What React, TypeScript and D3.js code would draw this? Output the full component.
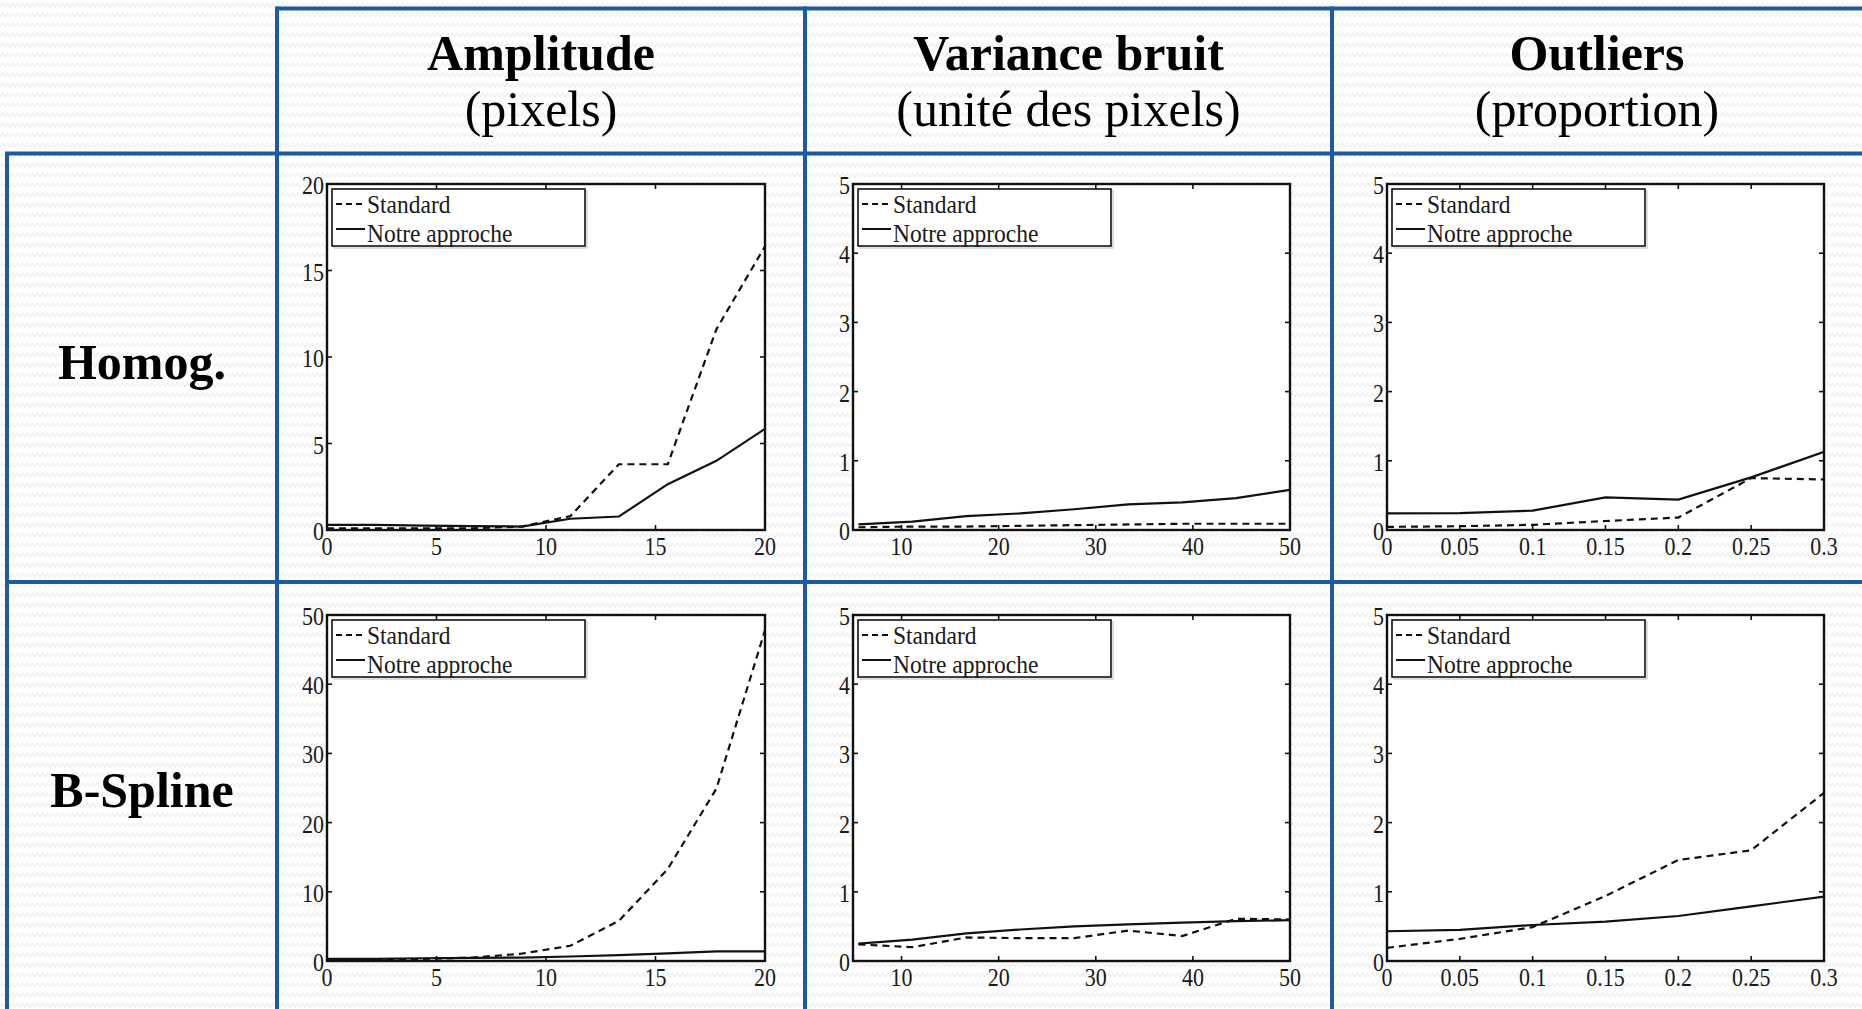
import * as d3 from 'd3';
import React from 'react';

const W = 1862;
const H = 1009;

// sampled abscissae, one per column
const amplitudeX = [0, 2.22, 4.44, 6.67, 8.89, 11.11, 13.33, 15.56, 17.78, 20];
const varianceX = [5.56, 11.11, 16.67, 22.22, 27.78, 33.33, 38.89, 44.44, 50];
const outlierX = [0, 0.05, 0.1, 0.15, 0.2, 0.25, 0.3];

// Homog. row
const homogAmpStandard = [0.1, 0.1, 0.1, 0.1, 0.2, 0.8, 3.8, 3.8, 11.6, 16.4];
const homogAmpOurs = [0.3, 0.3, 0.25, 0.22, 0.2, 0.65, 0.78, 2.65, 4.0, 5.85];
const homogVarStandard = [0.04, 0.05, 0.05, 0.06, 0.07, 0.08, 0.09, 0.09, 0.09];
const homogVarOurs = [0.08, 0.12, 0.2, 0.24, 0.3, 0.37, 0.4, 0.46, 0.58];
const homogOutStandard = [0.045, 0.055, 0.075, 0.13, 0.18, 0.75, 0.73];
const homogOutOurs = [0.24, 0.245, 0.28, 0.47, 0.44, 0.76, 1.13];

// B-Spline row
const bsplineAmpStandard = [0.1, 0.15, 0.3, 0.5, 1.06, 2.2, 5.8, 13.3, 24.9, 47.8];
const bsplineAmpOurs = [0.3, 0.3, 0.4, 0.45, 0.5, 0.65, 0.85, 1.1, 1.4, 1.4];
const bsplineVarStandard = [0.24, 0.2, 0.34, 0.33, 0.33, 0.44, 0.36, 0.61, 0.6];
const bsplineVarOurs = [0.25, 0.31, 0.4, 0.455, 0.5, 0.53, 0.555, 0.575, 0.59];
const bsplineOutStandard = [0.19, 0.32, 0.49, 0.94, 1.46, 1.6, 2.43];
const bsplineOutOurs = [0.43, 0.45, 0.52, 0.57, 0.65, 0.79, 0.93];

const columnTitles = ['Amplitude', 'Variance bruit', 'Outliers'];
const columnUnits = ['(pixels)', '(unité des pixels)', '(proportion)'];
const rowTitles = ['Homog.', 'B-Spline'];
const legendLabels = ['Standard', 'Notre approche'];

const xDomains = [[0, 20], [5, 50], [0, 0.3]];
const xTicks = [
  [0, 5, 10, 15, 20],
  [10, 20, 30, 40, 50],
  [0, 0.05, 0.1, 0.15, 0.2, 0.25, 0.3],
];
const yTicksHomog = [[0, 5, 10, 15, 20], [0, 1, 2, 3, 4, 5], [0, 1, 2, 3, 4, 5]];
const yTicksBspline = [[0, 10, 20, 30, 40, 50], [0, 1, 2, 3, 4, 5], [0, 1, 2, 3, 4, 5]];

const BLUE = '#1d5a9f';
const SERIF = "'Liberation Serif', 'Times New Roman', serif";

// grid geometry
const gridX = [7, 277, 805, 1332];
const gridY = [8.5, 153.5, 582];
const axesCols = [
  [327, 765],
  [853, 1290],
  [1387, 1824],
];
const axesRows = [
  [184, 530],
  [615, 961],
];

const columnX = [amplitudeX, varianceX, outlierX];
const series = [
  [
    [homogAmpStandard, homogAmpOurs],
    [homogVarStandard, homogVarOurs],
    [homogOutStandard, homogOutOurs],
  ],
  [
    [bsplineAmpStandard, bsplineAmpOurs],
    [bsplineVarStandard, bsplineVarOurs],
    [bsplineOutStandard, bsplineOutOurs],
  ],
];
const yTicksByRow = [yTicksHomog, yTicksBspline];

interface PanelProps {
  id: string;
  x0: number;
  x1: number;
  y0: number;
  y1: number;
  xDomain: number[];
  xTickValues: number[];
  yTickValues: number[];
  xs: number[];
  standard: number[];
  ours: number[];
}

const Panel = ({
  id, x0, x1, y0, y1, xDomain, xTickValues, yTickValues, xs, standard, ours,
}: PanelProps) => {
  const x = d3.scaleLinear().domain(xDomain).range([x0, x1]);
  const y = d3
    .scaleLinear()
    .domain([0, yTickValues[yTickValues.length - 1]])
    .range([y1, y0]);

  const line = d3
    .line<number>()
    .x((_, i) => x(xs[i]))
    .y((d) => y(d));

  const tick = 5;

  return (
    <g>
      <defs>
        <clipPath id={id}>
          <rect x={x0} y={y0} width={x1 - x0} height={y1 - y0} />
        </clipPath>
      </defs>
      <rect x={x0} y={y0} width={x1 - x0} height={y1 - y0} fill="#fff" />

      <g clipPath={`url(#${id})`} fill="none" stroke="#111" strokeWidth={2.2}>
        <path d={line(standard) || ''} strokeDasharray="7,5" />
        <path d={line(ours) || ''} />
      </g>

      {/* inward ticks on all four sides */}
      <g stroke="#111" strokeWidth={1.6}>
        {xTickValues.map((t) => (
          <g key={`xt${t}`}>
            <line x1={x(t)} x2={x(t)} y1={y1} y2={y1 - tick} />
            <line x1={x(t)} x2={x(t)} y1={y0} y2={y0 + tick} />
          </g>
        ))}
        {yTickValues.map((t) => (
          <g key={`yt${t}`}>
            <line x1={x0} x2={x0 + tick} y1={y(t)} y2={y(t)} />
            <line x1={x1} x2={x1 - tick} y1={y(t)} y2={y(t)} />
          </g>
        ))}
      </g>
      <rect
        x={x0}
        y={y0}
        width={x1 - x0}
        height={y1 - y0}
        fill="none"
        stroke="#111"
        strokeWidth={2.4}
      />

      <g fontFamily={SERIF} fontSize={22} fill="#1a1a1a">
        {xTickValues.map((t) => (
          <text
            key={`xl${t}`}
            transform={`translate(${x(t)},${y1 + 25}) scale(1,1.14)`}
            textAnchor="middle"
          >
            {String(t)}
          </text>
        ))}
        {yTickValues.map((t) => (
          <text
            key={`yl${t}`}
            transform={`translate(${x0 - 3},${y(t) + 10}) scale(1,1.14)`}
            textAnchor="end"
          >
            {String(t)}
          </text>
        ))}
      </g>

      {/* legend */}
      <rect x={x0 + 7} y={y0 + 7} width={253} height={57} fill="none" stroke="#bbb" strokeWidth={1} />
      <rect
        x={x0 + 5}
        y={y0 + 5}
        width={253}
        height={57}
        fill="#fff"
        stroke="#111"
        strokeWidth={1.6}
      />
      <line x1={x0 + 9} x2={x0 + 38} y1={y0 + 20} y2={y0 + 20} stroke="#111" strokeWidth={2} strokeDasharray="6,4" />
      <line x1={x0 + 9} x2={x0 + 38} y1={y0 + 45} y2={y0 + 45} stroke="#111" strokeWidth={2} />
      <g fontFamily={SERIF} fontSize={23.5} fill="#1a1a1a">
        <text transform={`translate(${x0 + 40},${y0 + 29}) scale(1,1.08)`}>{legendLabels[0]}</text>
        <text transform={`translate(${x0 + 40},${y0 + 58}) scale(1,1.08)`}>{legendLabels[1]}</text>
      </g>
    </g>
  );
};

const App = () => {
  const colCenters = [0, 1, 2].map((c) => (gridX[c + 1] + (gridX[c + 2] ?? W)) / 2);
  const rowCenters = [(gridY[1] + gridY[2]) / 2, (gridY[2] + H) / 2];

  return (
    <svg
      width={W}
      height={H}
      viewBox={`0 0 ${W} ${H}`}
      style={{ position: 'absolute', left: 0, top: 0, display: 'block' }}
    >
      <defs>
        <pattern id="zigzag" width={10} height={10} patternUnits="userSpaceOnUse">
          <rect width={10} height={10} fill="#fff" />
          <path d="M0 7 L2.5 3 L5 7 L7.5 3 L10 7" fill="none" stroke="#ededed" strokeWidth={1.1} />
        </pattern>
      </defs>
      <rect width={W} height={H} fill="url(#zigzag)" />

      {/* header texts */}
      {columnTitles.map((t, c) => (
        <g key={t} fontFamily={SERIF} fontSize={50} fill="#000" textAnchor="middle">
          <text x={colCenters[c]} y={70} fontWeight="bold">
            {t}
          </text>
          <text x={colCenters[c]} y={126}>
            {columnUnits[c]}
          </text>
        </g>
      ))}
      {rowTitles.map((t, r) => (
        <text
          key={t}
          x={(gridX[0] + gridX[1]) / 2}
          y={rowCenters[r] + 11}
          fontFamily={SERIF}
          fontSize={50}
          fontWeight="bold"
          textAnchor="middle"
        >
          {t}
        </text>
      ))}

      {/* plots */}
      {axesRows.map(([y0, y1], r) =>
        axesCols.map(([x0, x1], c) => (
          <Panel
            key={`p${r}${c}`}
            id={`clip${r}${c}`}
            x0={x0}
            x1={x1}
            y0={y0}
            y1={y1}
            xDomain={xDomains[c]}
            xTickValues={xTicks[c]}
            yTickValues={yTicksByRow[r][c]}
            xs={columnX[c]}
            standard={series[r][c][0]}
            ours={series[r][c][1]}
          />
        )),
      )}

      {/* table grid */}
      <g stroke={BLUE} strokeWidth={4} fill="none">
        <line x1={gridX[1]} x2={W} y1={gridY[0]} y2={gridY[0]} />
        <line x1={gridX[0] - 2} x2={W} y1={gridY[1]} y2={gridY[1]} />
        <line x1={gridX[0] - 2} x2={W} y1={gridY[2]} y2={gridY[2]} />
        <line x1={gridX[0]} x2={gridX[0]} y1={gridY[1]} y2={H} />
        {gridX.slice(1).map((gx) => (
          <line key={gx} x1={gx} x2={gx} y1={gridY[0] - 2} y2={H} />
        ))}
      </g>
    </svg>
  );
};

export default App;
